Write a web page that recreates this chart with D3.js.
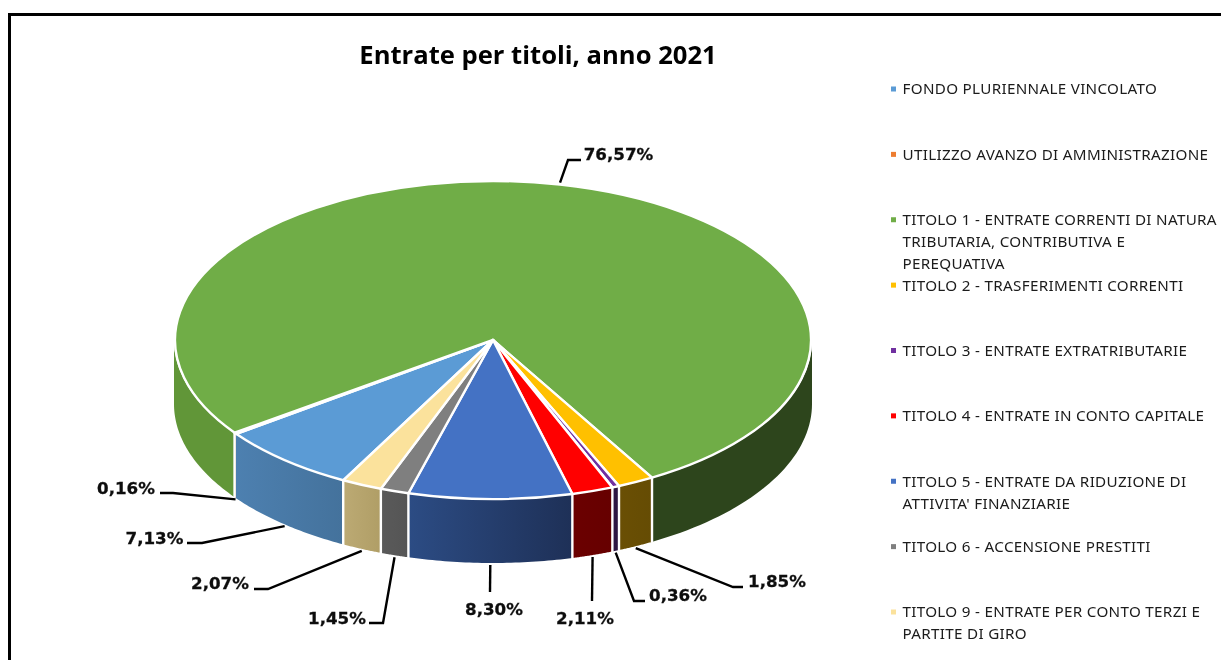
<!DOCTYPE html>
<html><head><meta charset="utf-8">
<script src="https://cdn.jsdelivr.net/npm/d3@7"></script>
<style>html,body{margin:0;padding:0;background:#fff;overflow:hidden}svg{display:block}</style>
</head><body><div id="c"></div>
<script>
const title = "Entrate per titoli, anno 2021";
const categories = ["FONDO PLURIENNALE VINCOLATO","UTILIZZO AVANZO DI AMMINISTRAZIONE","TITOLO 1 - ENTRATE CORRENTI DI NATURA TRIBUTARIA, CONTRIBUTIVA E PEREQUATIVA","TITOLO 2 - TRASFERIMENTI CORRENTI","TITOLO 3 - ENTRATE EXTRATRIBUTARIE","TITOLO 4 - ENTRATE IN CONTO CAPITALE","TITOLO 5 - ENTRATE DA RIDUZIONE DI ATTIVITA' FINANZIARIE","TITOLO 6 - ACCENSIONE PRESTITI","TITOLO 9 - ENTRATE PER CONTO TERZI E PARTITE DI GIRO"];
const legendLines = [["FONDO PLURIENNALE VINCOLATO"],["UTILIZZO AVANZO DI AMMINISTRAZIONE"],["TITOLO 1 - ENTRATE CORRENTI DI NATURA","TRIBUTARIA, CONTRIBUTIVA E","PEREQUATIVA"],["TITOLO 2 - TRASFERIMENTI CORRENTI"],["TITOLO 3 - ENTRATE EXTRATRIBUTARIE"],["TITOLO 4 - ENTRATE IN CONTO CAPITALE"],["TITOLO 5 - ENTRATE DA RIDUZIONE DI","ATTIVITA' FINANZIARIE"],["TITOLO 6 - ACCENSIONE PRESTITI"],["TITOLO 9 - ENTRATE PER CONTO TERZI E","PARTITE DI GIRO"]];
const values = [7.13,0.16,76.57,1.85,0.36,2.11,8.30,1.45,2.07];
const colors = ["#5b9bd5","#ed7d31","#70ad47","#ffc000","#7030a0","#ff0000","#4472c4","#7f7f7f","#fbe29c"];
const wallFrom = ["#4d80b0","#a85a22","#619638","#6a4f04","#2f1846","#6b0000","#2c4c84","#5a5a5a","#bcaa74"];
const wallTo   = ["#44729c","#a85a22","#2d451c","#654c04","#2b1540","#660000","#1e3057","#555555","#b09e66"];

// label layout: label centre, leader elbow, leader tail
const labelLayout = [
 {cx:154.5,cy:538,ex:202,ey:543,tx:187,ty:543},
 {cx:126,cy:488,ex:173,ey:493,tx:160,ty:493},
 {cx:618.5,cy:154,ex:568,ey:160,tx:581,ty:160},
 {cx:777,cy:581,ex:733,ey:587,tx:743,ty:587},
 {cx:678,cy:595,ex:634,ey:601,tx:645,ty:601},
 {cx:585,cy:618,ex:592,ey:601,tx:592,ty:601},
 {cx:494,cy:609,ex:490,ey:592,tx:490,ty:592},
 {cx:337,cy:618,ex:383,ey:623,tx:369,ty:623},
 {cx:220,cy:583,ex:268,ey:589,tx:254,ty:589}
];
const fmt = v => v.toFixed(2).replace(".",",")+"%";

const W=1221,H=660,cx=493,cy=340,rx=318,ratio=0.5,depth=64;
const rad=Math.PI/180, start=208.1*rad;
const svg=d3.select("#c").append("svg").attr("width",W).attr("height",H);
const defs=svg.append("defs");
defs.append("filter").attr("id","soft").attr("x","-5%").attr("y","-20%").attr("width","110%").attr("height","140%")
  .append("feGaussianBlur").attr("stdDeviation",0.35);

// frame
svg.append("path").attr("d",`M9.5,${H}V14.5H${W}`).attr("fill","none").attr("stroke","#000").attr("stroke-width",3);

svg.append("text").attr("x",538).attr("y",64).attr("text-anchor","middle").attr("filter","url(#soft)")
  .attr("font-family","'Open Sans',sans-serif").attr("font-weight",700).attr("font-size",25.6).attr("fill","#000").text(title);

const arcs=d3.pie().sort(null).startAngle(start).endAngle(start+2*Math.PI)(values);
const rim=(a,d=0,extra=0)=>[cx+(rx+extra)*Math.sin(a),cy-rx*ratio*Math.cos(a)+d];
const line=d3.line();

// outer walls: only the front half of the rim is visible
const wallSpans=[];
arcs.forEach((s,i)=>{
  [-2*Math.PI,0,2*Math.PI].forEach(o=>{
    const lo=Math.max(s.startAngle+o,Math.PI/2),hi=Math.min(s.endAngle+o,1.5*Math.PI);
    if(hi>lo) wallSpans.push({i,lo,hi});
  });
});
wallSpans.forEach((w,k)=>{
  const id="wall"+k;
  const g=defs.append("linearGradient").attr("id",id).attr("x1",0).attr("x2",1).attr("y1",0).attr("y2",0);
  const isGreen=w.i===2, left=w.lo>=Math.PI;
  const c1=isGreen?(left?wallFrom[2]:wallTo[2]):wallFrom[w.i], c2=isGreen?c1:wallTo[w.i];
  g.append("stop").attr("offset",0).attr("stop-color",c1);
  g.append("stop").attr("offset",1).attr("stop-color",c2);
  const as=d3.range(0,41).map(t=>w.lo+(w.hi-w.lo)*t/40);
  const pts=as.map(a=>rim(a,0,1)).concat(as.slice().reverse().map(a=>rim(a,depth,1)));
  svg.append("path").attr("d",line(pts)+"Z").attr("fill",`url(#${id})`);
});
// white separators between wall segments
arcs.forEach(s=>{
  const a=((s.startAngle%(2*Math.PI))+2*Math.PI)%(2*Math.PI);
  if(a>Math.PI/2&&a<1.5*Math.PI&&s.value>0.2)
    svg.append("path").attr("d",line([rim(a),rim(a,depth+1)])).attr("stroke","#fff").attr("stroke-width",2.4);
});

// top face
const arc=d3.arc().innerRadius(0).outerRadius(rx);
svg.append("g").attr("transform",`translate(${cx},${cy}) scale(1,${ratio})`)
  .selectAll("path").data(arcs).join("path").attr("d",arc)
  .attr("fill",(d,i)=>colors[i]).attr("stroke","#fff").attr("stroke-width",2.4)
  .attr("stroke-linejoin","round").attr("vector-effect","non-scaling-stroke");

// leader lines and labels
arcs.forEach((s,i)=>{
  const L=labelLayout[i];
  const mid=(s.startAngle+s.endAngle)/2;
  const norm=((mid%(2*Math.PI))+2*Math.PI)%(2*Math.PI);
  const front=Math.cos(norm)<0;
  const p=rim(norm,front?depth+2:-2);
  svg.append("path").attr("d",line([p,[L.ex,L.ey],[L.tx,L.ty]])).attr("fill","none").attr("stroke","#000").attr("stroke-width",2.4);
  svg.append("text").attr("x",L.cx).attr("y",L.cy).attr("dy","0.36em").attr("text-anchor","middle").attr("filter","url(#soft)")
    .attr("font-family","'DejaVu Sans',sans-serif").attr("font-weight",700).attr("font-size",16.7)
    .attr("fill","#111").attr("stroke","#111").attr("stroke-width",0.3).text(fmt(values[i]));
});

// legend
const legendY=d3.scalePoint().domain(d3.range(categories.length)).range([89,612]);
categories.forEach((c,i)=>{
  const y=legendY(i);
  svg.append("rect").attr("x",891).attr("y",y-2.5).attr("width",5).attr("height",5).attr("fill",colors[i]);
  legendLines[i].forEach((t,j)=>{
    svg.append("text").attr("x",902.5).attr("y",y+j*22).attr("dy","0.36em").attr("filter","url(#soft)")
      .attr("font-family","'Noto Sans',sans-serif").attr("font-size",15.2).attr("letter-spacing",0.32).attr("fill","#1a1a1a").text(t);
  });
});
</script></body></html>
